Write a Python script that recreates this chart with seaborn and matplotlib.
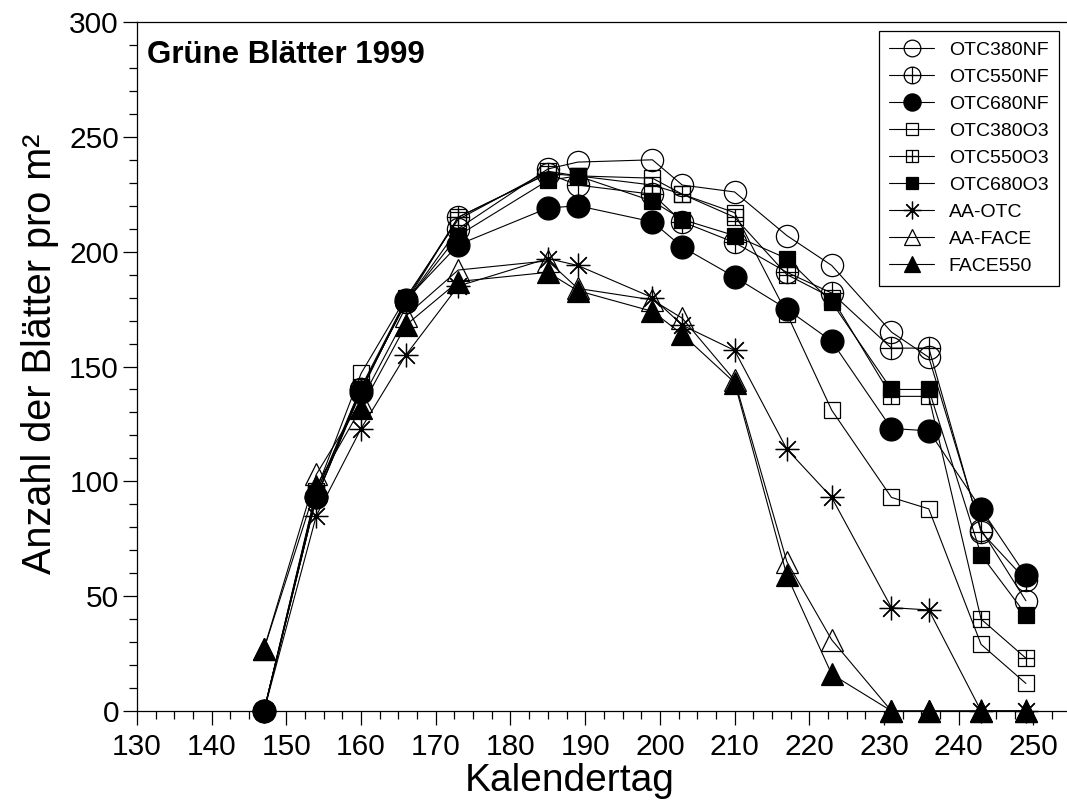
import numpy as np
import pandas as pd
import matplotlib
matplotlib.use("Agg")
import matplotlib.pyplot as plt
import seaborn as sns
from matplotlib.path import Path
from matplotlib.ticker import MultipleLocator

# ---------------- data ----------------
days = [147, 154, 160, 166, 173, 185, 189, 199, 203, 210, 217, 223, 231, 236, 243, 249]

otc380nf = [0, 93, 140, 178, 210, 236, 239, 240, 229, 226, 207, 194, 165, 154, 79, 48]
otc550nf = [0, 93, 140, 178, 215, 234, 229, 225, 213, 204, 191, 182, 158, 158, 78, 57]
otc680nf = [0, 93, 139, 179, 203, 219, 220, 213, 202, 189, 175, 161, 123, 122, 88, 59]
otc380o3 = [0, 96, 147, 180, 214, 235, 233, 232, 225, 217, 173, 131, 93, 88, 29, 12]
otc550o3 = [0, 95, 141, 179, 215, 234, 233, 229, 225, 215, 190, 180, 137, 137, 40, 23]
otc680o3 = [0, 95, 140, 178, 207, 231, 233, 222, 214, 207, 197, 178, 140, 140, 68, 42]
aa_otc   = [0, 85, 123, 155, 185, 197, 194, 180, 168, 157, 114, 93, 45, 44, 0, 0]
aa_face  = [27, 103, 135, 172, 192, 196, 184, 179, 171, 144, 65, 31, 0, 0, 0, 0]
face550  = [27, 98, 132, 168, 187, 191, 183, 174, 164, 143, 59, 16, 0, 0, 0, 0]

series_names = ["OTC380NF", "OTC550NF", "OTC680NF", "OTC380O3", "OTC550O3",
                "OTC680O3", "AA-OTC", "AA-FACE", "FACE550"]
series_values = [otc380nf, otc550nf, otc680nf, otc380o3, otc550o3,
                 otc680o3, aa_otc, aa_face, face550]

title_text = "Grüne Blätter 1999"
xlabel_text = "Kalendertag"
ylabel_text = "Anzahl der Blätter pro m²"

# ---------------- style ----------------
sns.set_style("ticks")
plt.rcParams['font.family'] = ['Liberation Sans', 'DejaVu Sans']
plt.rcParams['text.color'] = 'black'
plt.rcParams['axes.labelcolor'] = 'black'
plt.rcParams['xtick.color'] = 'black'
plt.rcParams['ytick.color'] = 'black'

M, L, C = Path.MOVETO, Path.LINETO, Path.CLOSEPOLY
cross = Path([(-1, 0), (1, 0), (0, -1), (0, 1)], [M, L, M, L])
circle_plus = Path.make_compound_path(Path.unit_circle(), cross)
square = Path([(-1, -1), (1, -1), (1, 1), (-1, 1), (-1, -1)], [M, L, L, L, C])
square_plus = Path.make_compound_path(square, cross)

styles = {
    "OTC380NF": dict(marker="o", ms=16, mfc="none"),
    "OTC550NF": dict(marker=circle_plus, ms=16, mfc="none"),
    "OTC680NF": dict(marker="o", ms=16.5, mfc="black"),
    "OTC380O3": dict(marker="s", ms=12, mfc="none"),
    "OTC550O3": dict(marker=square_plus, ms=12, mfc="none"),
    "OTC680O3": dict(marker="s", ms=12, mfc="black"),
    "AA-OTC":   dict(marker=(8, 2, 0), ms=17, mfc="black"),
    "AA-FACE":  dict(marker="^", ms=16, mfc="none"),
    "FACE550":  dict(marker="^", ms=16, mfc="black"),
}

W, H = 1067, 806
fig = plt.figure(figsize=(W / 100, H / 100), dpi=100)
ax = fig.add_axes([137 / W, 1 - 711 / H, (W - 137) / W, (711 - 22) / H])

for name, vals in zip(series_names, series_values):
    df = pd.DataFrame({"Tag": days, "Wert": vals})
    st = styles[name]
    sns.lineplot(data=df, x="Tag", y="Wert", ax=ax, color="black",
                 linewidth=0.8, marker=st["marker"], markersize=st["ms"],
                 markerfacecolor=st["mfc"], markeredgecolor="black",
                 markeredgewidth=0.9, label=name, clip_on=False, zorder=3)

ax.set_xlim(130, 254.5)
ax.set_ylim(0, 300)
ax.xaxis.set_major_locator(MultipleLocator(10))
ax.xaxis.set_minor_locator(MultipleLocator(2.5))
ax.yaxis.set_major_locator(MultipleLocator(50))
ax.yaxis.set_minor_locator(MultipleLocator(10))
ax.tick_params(axis="both", which="major", direction="out", length=10,
               width=0.9, labelsize=21.5, colors="black")
ax.tick_params(axis="x", which="major", pad=6)
ax.tick_params(axis="y", which="major", pad=3)
ax.tick_params(axis="both", which="minor", direction="out", length=5.5,
               width=0.9, colors="black")
for side in ["left", "bottom", "top"]:
    ax.spines[side].set_visible(True)
    ax.spines[side].set_linewidth(0.9)
    ax.spines[side].set_color("black")
ax.spines["right"].set_visible(False)
ax.set_xlabel("")
ax.set_ylabel("")

fig.text(570 / W, 1 - 791 / H, xlabel_text, fontsize=28, ha="center",
         va="baseline", color="black")
fig.text(40 / W, 1 - 354 / H, ylabel_text, fontsize=28.5, ha="center",
         va="center", rotation=90, color="black")
fig.text(147 / W, 1 - 63 / H, title_text, fontsize=22.5, fontweight="bold",
         ha="left", va="baseline", color="black")

leg = ax.legend(loc="upper right", bbox_to_anchor=(1059 / W, 1 - 31 / H),
                bbox_transform=fig.transFigure, fontsize=14, frameon=True,
                fancybox=False, shadow=False, framealpha=1, edgecolor="black",
                borderpad=0.55, labelspacing=0.48, handlelength=2.3,
                handletextpad=0.75, markerscale=0.75, borderaxespad=0)
leg.get_frame().set_linewidth(0.9)
for t in leg.get_texts():
    t.set_color("black")

fig.savefig("out.png", dpi=100)
